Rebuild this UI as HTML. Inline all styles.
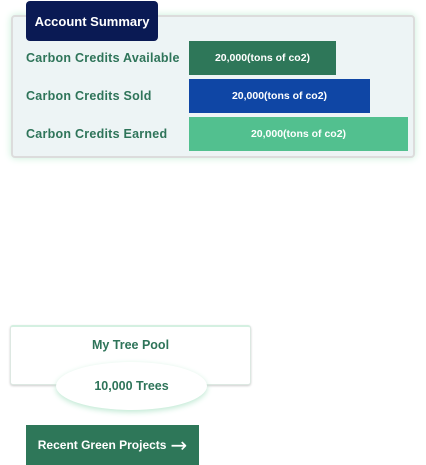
<!DOCTYPE html>
<html><head><style>
body{margin:0;width:426px;height:465px;background:#fff;position:relative;overflow:hidden;font-family:"Liberation Sans",sans-serif;font-weight:bold}
div{position:absolute;box-sizing:border-box}
.lbl{left:26px;color:#2e7459;font-size:12.5px;line-height:14px;letter-spacing:0.25px}
.bar{left:189px;height:34px;color:#fff;font-size:10.5px;display:flex;align-items:center;justify-content:center}
</style></head><body>
<div style="left:11px;top:15px;width:404px;height:143px;background:#edf4f5;border:2px solid #dcdcdc;border-radius:4px;box-shadow:0 0 8px #c8efd9"></div>
<div style="left:26px;top:1px;width:132px;height:40px;background:#0a1a54;border-radius:4px;color:#fff;font-size:13px;display:flex;align-items:center;justify-content:center">Account Summary</div>
<div class="lbl" style="top:51px">Carbon Credits Available</div>
<div class="lbl" style="top:89px">Carbon Credits Sold</div>
<div class="lbl" style="top:127px">Carbon Credits Earned</div>
<div class="bar" style="top:41px;width:147px;background:#2e7759">20,000(tons of co2)</div>
<div class="bar" style="top:79px;width:181px;background:#0f46a5">20,000(tons of co2)</div>
<div class="bar" style="top:117px;width:219px;background:#52c08f">20,000(tons of co2)</div>
<div style="left:10px;top:325px;width:241px;height:60px;background:#fff;border:1px solid #dde8e2;border-top:2px solid #d4f0e1;border-radius:3px;box-shadow:0 1px 2px #ccc"></div>
<div style="left:10px;top:338px;width:241px;text-align:center;color:#2e7459;font-size:12.5px">My Tree Pool</div>
<div style="left:56px;top:362px;width:151px;height:48px;border-radius:50%;background:#fff;box-shadow:0 2px 6px #bfe9d3;display:flex;align-items:center;justify-content:center;color:#2e7459;font-size:12.5px">10,000 Trees</div>
<div style="left:26px;top:425px;width:173px;height:40px;background:#2e7759;color:#fff;font-size:12px;display:flex;align-items:center;justify-content:center">Recent Green Projects <span style="font-size:20px;margin-left:4px;font-family:'DejaVu Sans',sans-serif;font-weight:normal">→</span></div>
</body></html>
